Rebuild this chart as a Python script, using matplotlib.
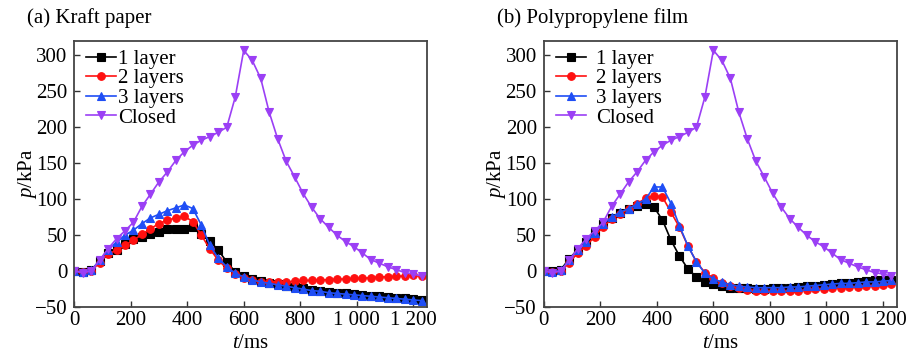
import matplotlib
matplotlib.use("Agg")
import matplotlib.pyplot as plt
from matplotlib.ticker import FuncFormatter, FixedLocator

plt.rcParams['font.family'] = ['Liberation Serif', 'DejaVu Serif']
plt.rcParams['mathtext.fontset'] = 'custom'
plt.rcParams['mathtext.rm'] = 'Liberation Serif'
plt.rcParams['mathtext.it'] = 'Liberation Serif:italic'

t = list(range(0, 1231, 30))

closed = [0, -2, 0, 15, 31, 45, 56, 68, 90, 107, 124, 138, 154, 166, 175, 182, 187, 193, 200, 242, 307,
          293, 268, 221, 184, 153, 131, 108, 89, 73, 61, 50, 41, 34, 25, 16, 11, 6, 2, -2, -4, -7]

# (a) Kraft paper
kraft_1 = [0, -1, 1, 14, 25, 30, 38, 44, 48, 51, 55, 58, 58, 58, 61, 52, 42, 29, 13, -1, -7,
           -11, -14, -16, -18, -20, -22, -24, -26, -27, -29, -30, -31, -32, -33, -34, -35, -36, -37, -38, -39, -40]
kraft_2 = [0, -1, 0, 12, 24, 29, 36, 43, 51, 59, 66, 71, 74, 76, 69, 50, 31, 15, 4, -4, -9,
           -13, -15, -15, -15, -15, -14, -13, -13, -12, -12, -11, -11, -10, -10, -9, -8, -8, -7, -7, -6, -7]
kraft_3 = [0, -1, 1, 15, 30, 40, 50, 57, 66, 74, 79, 84, 88, 92, 87, 64, 36, 18, 6, -3, -8,
           -12, -15, -17, -19, -21, -23, -25, -27, -28, -30, -31, -32, -33, -34, -35, -36, -37, -38, -39, -40, -41]

# (b) Polypropylene film
pp_1 = [0, 0, 2, 17, 30, 41, 54, 66, 74, 81, 86, 91, 94, 89, 71, 43, 21, 3, -8, -15, -18,
        -21, -23, -24, -24, -25, -25, -24, -24, -23, -22, -21, -20, -19, -18, -17, -16, -15, -14, -13, -12, -12]
pp_2 = [0, -1, 0, 12, 25, 35, 48, 62, 72, 80, 86, 94, 101, 105, 103, 82, 61, 35, 13, -2, -10,
        -17, -21, -24, -26, -27, -28, -28, -28, -27, -27, -26, -25, -25, -24, -23, -22, -22, -21, -20, -19, -18]
pp_3 = [0, -1, 1, 15, 30, 40, 53, 66, 75, 82, 87, 93, 100, 117, 117, 94, 63, 35, 13, -3, -11,
        -15, -19, -21, -22, -23, -23, -23, -23, -22, -22, -21, -20, -19, -18, -17, -17, -16, -15, -15, -14, -13]

titles = ['(a) Kraft paper', '(b) Polypropylene film']
labels = ['1 layer', '2 layers', '3 layers', 'Closed']
colors = ['#000000', '#ff1010', '#1f4ef5', '#9b3ff5']
markers = ['s', 'o', '^', 'v']
xticks = [0, 200, 400, 600, 800, 1000, 1200]
yticks = [-50, 0, 50, 100, 150, 200, 250, 300]

panels = [[kraft_1, kraft_2, kraft_3, closed], [pp_1, pp_2, pp_3, closed]]
textpads = [0.08, 0.5]

fig = plt.figure(figsize=(9.07, 3.53), dpi=100)
axes = [fig.add_axes([0.0817, 0.130, 0.389, 0.754]),
        fig.add_axes([0.5995, 0.130, 0.389, 0.754])]

def fmt(v, pos):
    v = int(round(v))
    s = f"{abs(v):,}".replace(",", " ")
    return ("\u2212" if v < 0 else "") + s

for ax, series, title, tp in zip(axes, panels, titles, textpads):
    for ys, lab, c, m in zip(series, labels, colors, markers):
        ax.plot(t, ys, color=c, marker=m, markersize=5.5, linewidth=1.2, label=lab,
                markeredgewidth=0.8)
    ax.set_xlim(0, 1248)
    ax.set_ylim(-50, 320)
    ax.xaxis.set_major_locator(FixedLocator(xticks))
    ax.yaxis.set_major_locator(FixedLocator(yticks))
    ax.xaxis.set_major_formatter(FuncFormatter(fmt))
    ax.yaxis.set_major_formatter(FuncFormatter(fmt))
    ax.tick_params(direction='in', length=4, width=1.0, labelsize=15, color='#333333')
    ax.tick_params(axis='x', pad=3)
    ax.tick_params(axis='y', pad=5)
    for sp in ax.spines.values():
        sp.set_linewidth(1.3)
        sp.set_color('#444444')
    ax.set_xlabel(r'$t$/ms', fontsize=15, labelpad=2.5)
    ax.set_ylabel(r'$p$/kPa', fontsize=15)
    ax.yaxis.set_label_coords(-0.10, 0.5)
    ax.legend(loc='upper left', frameon=False, fontsize=15, handlelength=1.45,
              handletextpad=tp, labelspacing=0.0, borderaxespad=0.0,
              borderpad=0.4, bbox_to_anchor=(0.01, 1.0))
    pos = ax.get_position()
    fig.text(pos.x0 - 0.052, 0.935, title, fontsize=15, ha='left', va='baseline')

fig.savefig('out.png', dpi=100)
